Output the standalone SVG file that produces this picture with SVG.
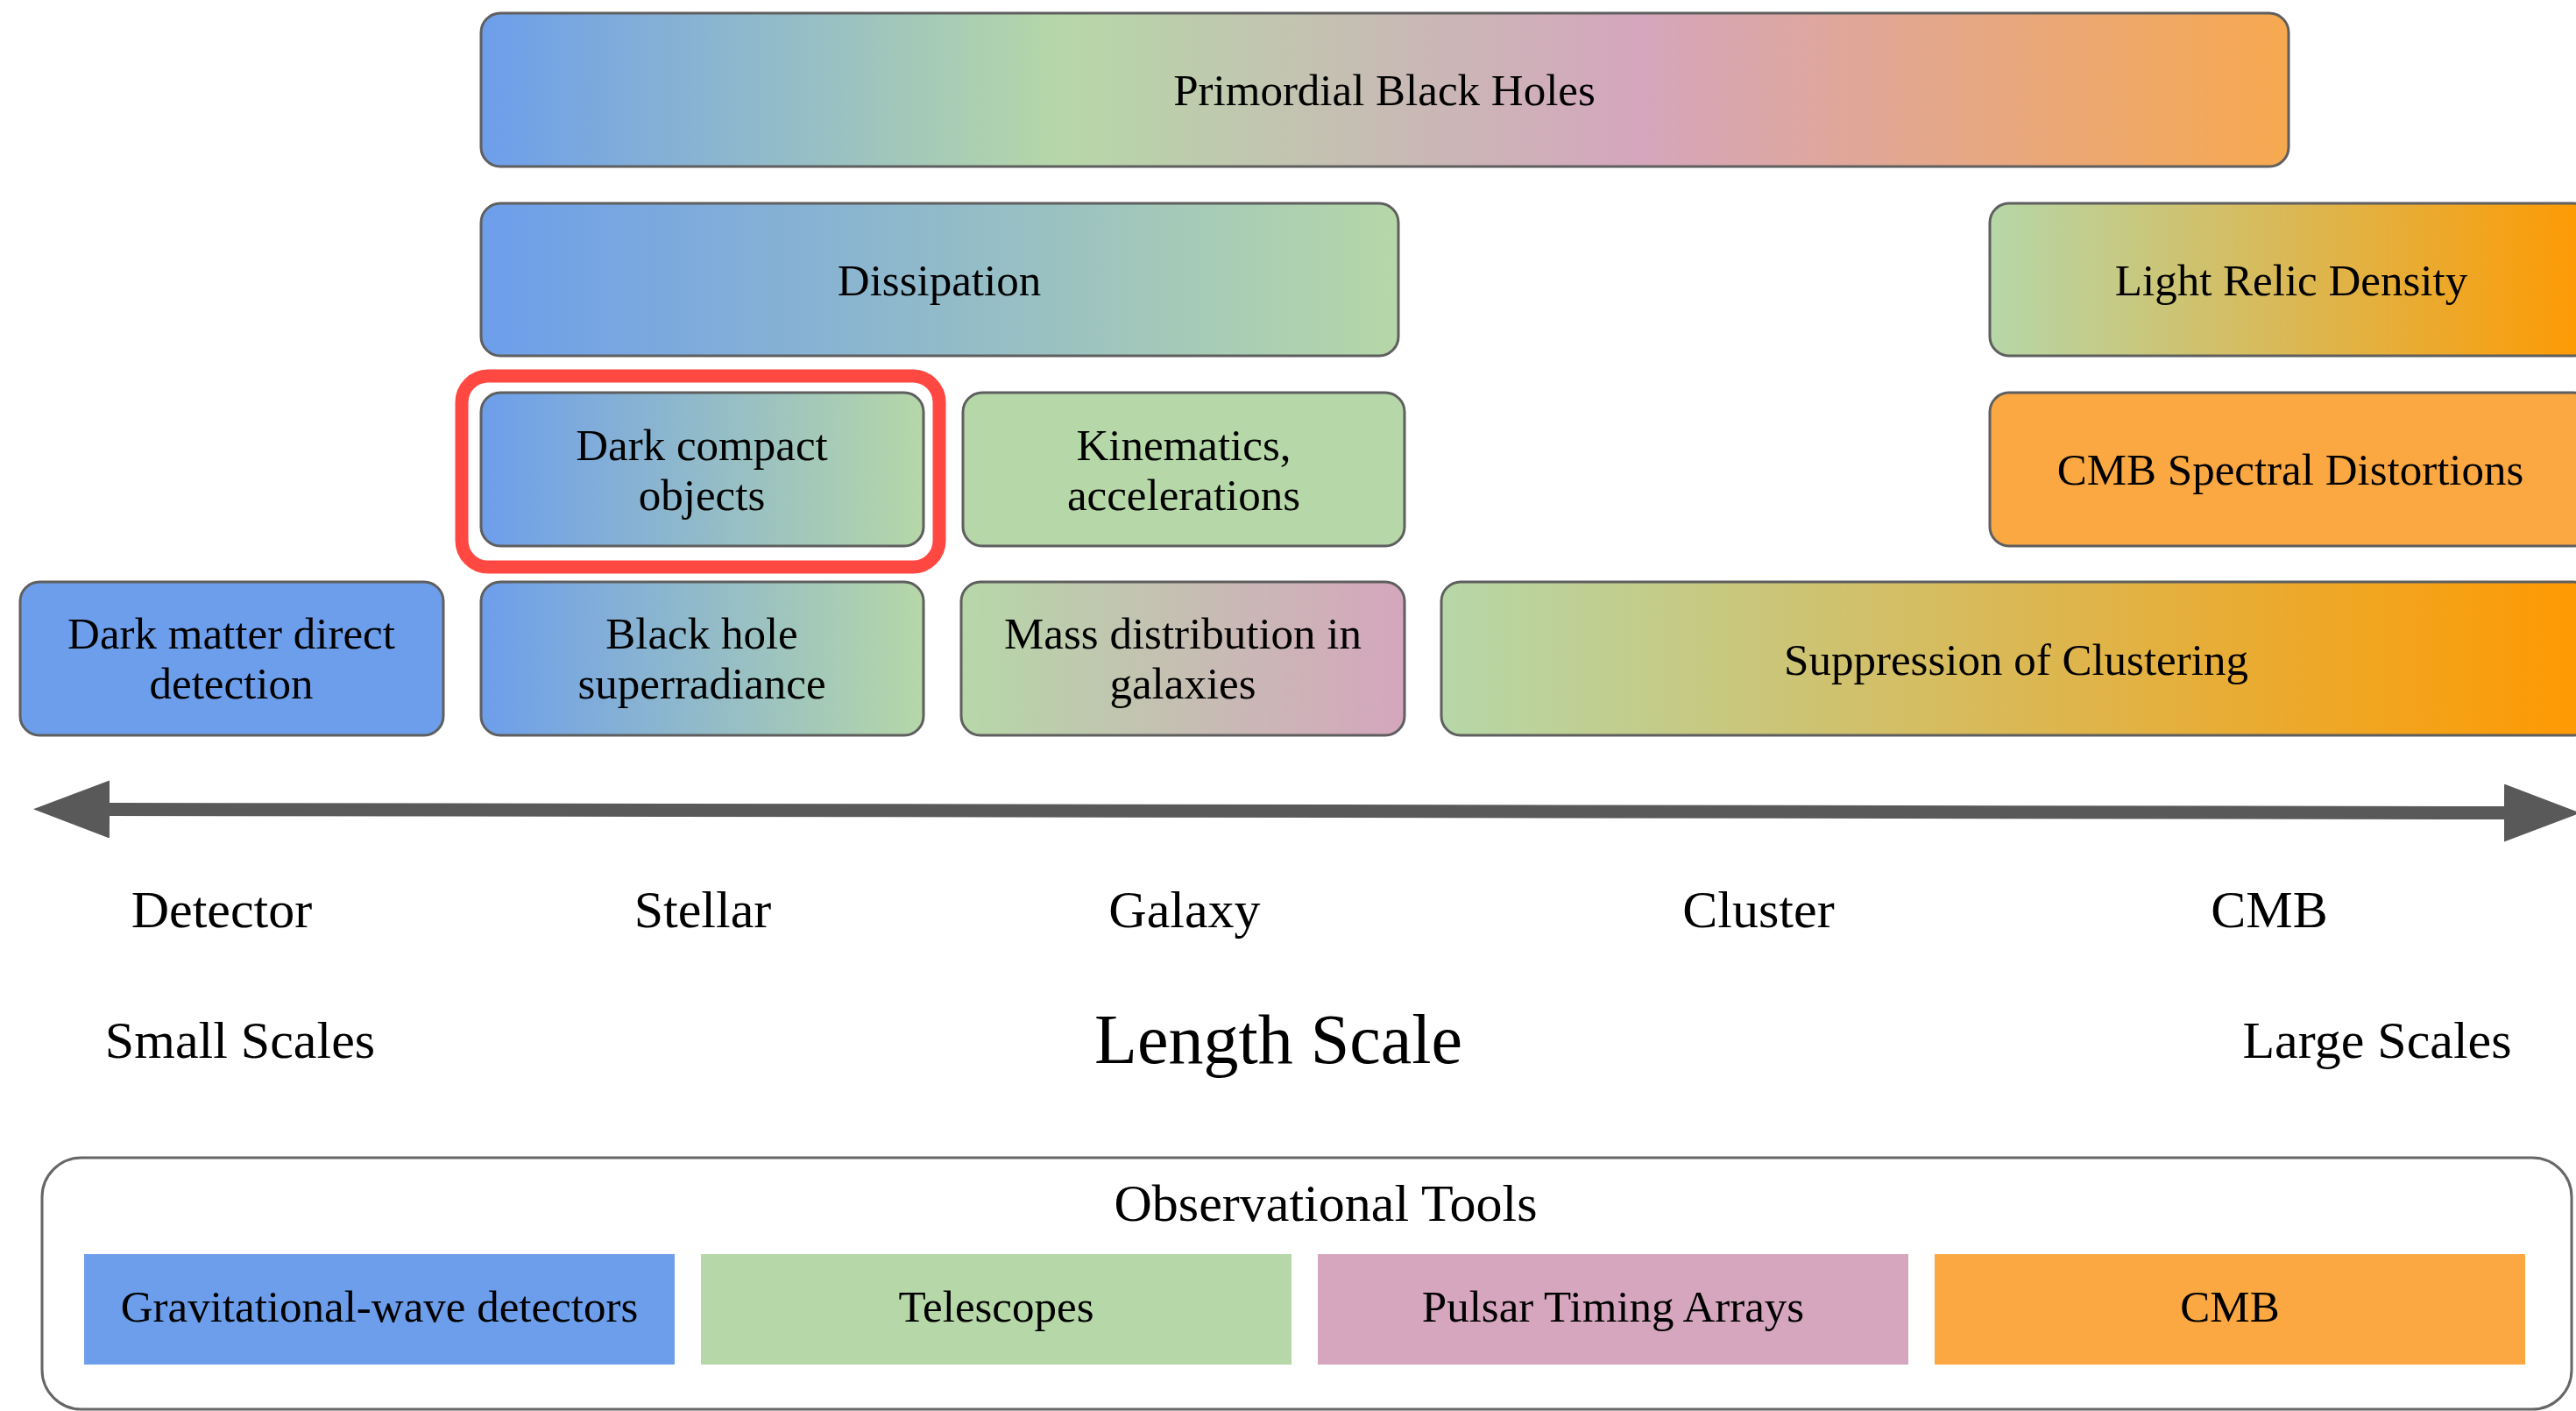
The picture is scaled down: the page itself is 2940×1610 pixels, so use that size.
<svg xmlns="http://www.w3.org/2000/svg" width="2940" height="1610" viewBox="0 0 2940 1610">
  <style>
    text { font-family: "Liberation Serif", "DejaVu Serif", serif; fill: #000; text-anchor: middle; }
    .box { stroke: #5f5f5f; stroke-width: 3; }
    .t { font-size: 51px; }
    .ax { font-size: 60px; }
    .big { font-size: 80px; }
    .leg { stroke: none; }
  </style>
  <defs>
    <linearGradient id="gPBH" x1="0" y1="0" x2="1" y2="0">
      <stop offset="0" stop-color="#6D9EEB"/>
      <stop offset="0.32" stop-color="#B6D7A8"/>
      <stop offset="0.64" stop-color="#D5A6BD"/>
      <stop offset="1" stop-color="#F7A94F"/>
    </linearGradient>
    <linearGradient id="gBG" x1="0" y1="0" x2="1" y2="0">
      <stop offset="0" stop-color="#6D9EEB"/>
      <stop offset="1" stop-color="#B6D7A8"/>
    </linearGradient>
    <linearGradient id="gGP" x1="0" y1="0" x2="1" y2="0">
      <stop offset="0" stop-color="#B6D7A8"/>
      <stop offset="1" stop-color="#D5A6BD"/>
    </linearGradient>
    <linearGradient id="gGO" x1="0" y1="0" x2="1" y2="0">
      <stop offset="0" stop-color="#B6D7A8"/>
      <stop offset="1" stop-color="#FF9900"/>
    </linearGradient>
    <marker id="head" viewBox="0 0 87 66" refX="0" refY="33" markerWidth="87" markerHeight="66" markerUnits="userSpaceOnUse" orient="auto-start-reverse">
      <path d="M0,0 L87,33 L0,66 z" fill="#595959"/>
    </marker>
  </defs>

  <g id="node-pbh">
    <rect class="box" x="549" y="15" width="2063" height="175" rx="22" fill="url(#gPBH)"/>
    <text class="t" x="1580" y="120">Primordial Black Holes</text>
  </g>
  <g id="node-dissipation">
    <rect class="box" x="549" y="232" width="1047" height="174" rx="22" fill="url(#gBG)"/>
    <text class="t" x="1072" y="337">Dissipation</text>
  </g>
  <g id="node-light-relic">
    <rect class="box" x="2271" y="232" width="688" height="174" rx="22" fill="url(#gGO)"/>
    <text class="t" x="2615" y="337">Light Relic Density</text>
  </g>
  <g id="node-dark-compact">
    <rect class="box" x="549" y="448" width="505" height="175" rx="22" fill="url(#gBG)"/>
    <text class="t" x="801" y="525">Dark compact</text>
    <text class="t" x="801" y="582">objects</text>
  </g>
  <g id="highlight">
    <rect x="527" y="429" width="545" height="218" rx="30" fill="none" stroke="#FF4842" stroke-width="15"/>
  </g>
  <g id="node-kinematics">
    <rect class="box" x="1099" y="448" width="504" height="175" rx="22" fill="#B6D7A8"/>
    <text class="t" x="1351" y="525">Kinematics,</text>
    <text class="t" x="1351" y="582">accelerations</text>
  </g>
  <g id="node-cmb-spectral">
    <rect class="box" x="2271" y="448" width="688" height="175" rx="22" fill="#FBA842"/>
    <text class="t" x="2614" y="553">CMB Spectral Distortions</text>
  </g>
  <g id="node-dm-direct">
    <rect class="box" x="23" y="664" width="483" height="175" rx="22" fill="#6D9EEB"/>
    <text class="t" x="264" y="740">Dark matter direct</text>
    <text class="t" x="264" y="797">detection</text>
  </g>
  <g id="node-bh-superradiance">
    <rect class="box" x="549" y="664" width="505" height="175" rx="22" fill="url(#gBG)"/>
    <text class="t" x="801" y="740">Black hole</text>
    <text class="t" x="801" y="797">superradiance</text>
  </g>
  <g id="node-mass-distribution">
    <rect class="box" x="1097" y="664" width="506" height="175" rx="22" fill="url(#gGP)"/>
    <text class="t" x="1350" y="740">Mass distribution in</text>
    <text class="t" x="1350" y="797">galaxies</text>
  </g>
  <g id="node-suppression">
    <rect class="box" x="1645" y="664" width="1314" height="175" rx="22" fill="url(#gGO)"/>
    <text class="t" x="2301" y="770">Suppression of Clustering</text>
  </g>

  <g id="connectors">
    <path d="M125,923.5 L2858,927.5" stroke="#595959" stroke-width="15" fill="none" marker-start="url(#head)" marker-end="url(#head)"/>
  </g>

  <g id="axis-labels">
    <text class="ax" x="253" y="1058">Detector</text>
    <text class="ax" x="802" y="1058">Stellar</text>
    <text class="ax" x="1352" y="1058">Galaxy</text>
    <text class="ax" x="2007" y="1058">Cluster</text>
    <text class="ax" x="2590" y="1058">CMB</text>
    <text class="ax" x="274" y="1207">Small Scales</text>
    <text class="big" x="1459" y="1213">Length Scale</text>
    <text class="ax" x="2713" y="1207">Large Scales</text>
  </g>

  <g id="legend">
    <rect x="48" y="1321" width="2887" height="287" rx="45" fill="#fff" stroke="#666" stroke-width="3"/>
    <text class="ax" x="1513" y="1393">Observational Tools</text>
    <g id="legend-gw">
      <rect class="leg" x="96" y="1431" width="674" height="126" fill="#6D9EEB"/>
      <text class="t" x="433" y="1508">Gravitational-wave detectors</text>
    </g>
    <g id="legend-telescopes">
      <rect class="leg" x="800" y="1431" width="674" height="126" fill="#B6D7A8"/>
      <text class="t" x="1137" y="1508">Telescopes</text>
    </g>
    <g id="legend-pta">
      <rect class="leg" x="1504" y="1431" width="674" height="126" fill="#D5A6BD"/>
      <text class="t" x="1841" y="1508">Pulsar Timing Arrays</text>
    </g>
    <g id="legend-cmb">
      <rect class="leg" x="2208" y="1431" width="674" height="126" fill="#FBA842"/>
      <text class="t" x="2545" y="1508">CMB</text>
    </g>
  </g>
</svg>
